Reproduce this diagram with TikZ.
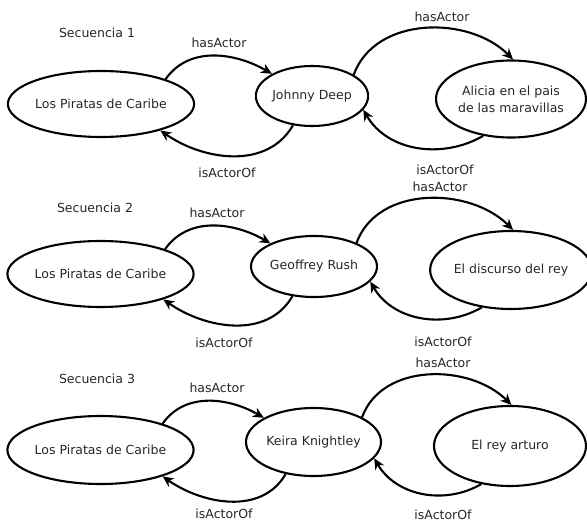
\documentclass[tikz,border=0pt]{standalone}
\usepackage{fontspec}
\setmainfont{DejaVu Sans}
\usetikzlibrary{shapes.geometric,arrows.meta}
\begin{document}
\begin{tikzpicture}[x=1pt,y=-1pt,
  ell/.style={ellipse, draw, line width=2.1pt, inner sep=0pt, align=center,
    text=black!85, font=\fontsize{12.5}{17}\selectfont},
  lbl/.style={font=\fontsize{12.5}{15}\selectfont, inner sep=0pt, text=black!85},
  rel/.style={line width=2.1pt, -{Stealth[length=11pt,width=10pt]}}]
\useasboundingbox (0,0) rectangle (587,524);

% ---------- Secuencia 1 ----------
\node[lbl] (s1) at (97,33) {Secuencia 1};
\node[ell, minimum width=171, minimum height=66] (p1) at (101,104) {Los Piratas de Caribe};
\node[ell, minimum width=111, minimum height=60] (a1) at (312,96) {Johnny Deep};
\node[ell, minimum width=150, minimum height=77] (m1) at (511,99) {Alicia en el pais\\de las maravillas};
\draw[rel] (p1.21) to[out=55,in=150] (a1.151);
\draw[rel] (a1.-123) to[out=-120,in=-35] (p1.-24);
\draw[rel] (a1.27) to[out=70,in=135] (m1.87);
\draw[rel] (m1.-127) to[out=-150,in=-60] (a1.-15);
\node[lbl] (h1a) at (219,43) {hasActor};
\node[lbl] (i1a) at (227,173) {isActorOf};
\node[lbl] (h1b) at (442,17) {hasActor};
\node[lbl] (i1b) at (445,170) {isActorOf};

% ---------- Secuencia 2 ----------
\node[lbl] (s2) at (95,208) {Secuencia 2};
\node[ell, minimum width=173, minimum height=66] (p2) at (100.5,274) {Los Piratas de Caribe};
\node[ell, minimum width=126, minimum height=61] (a2) at (314,266.5) {Geoffrey Rush};
\node[ell, minimum width=150, minimum height=78] (m2) at (511,270) {El discurso del rey};
\draw[rel] (p2.21) to[out=55,in=150] (a2.152);
\draw[rel] (a2.-126) to[out=-120,in=-35] (p2.-22);
\draw[rel] (a2.29) to[out=70,in=135] (m2.87);
\draw[rel] (m2.-128) to[out=-150,in=-60] (a2.-15);
\node[lbl] (h2a) at (217,213) {hasActor};
\node[lbl] (i2a) at (224,343) {isActorOf};
\node[lbl] (h2b) at (440,187) {hasActor};
\node[lbl] (i2b) at (443,342) {isActorOf};

% ---------- Secuencia 3 ----------
\node[lbl] (s3) at (97,379) {Secuencia 3};
\node[ell, minimum width=173, minimum height=68] (p3) at (100.5,450) {Los Piratas de Caribe};
\node[ell, minimum width=135, minimum height=68] (a3) at (313.5,442) {Keira Knightley};
\node[ell, minimum width=152, minimum height=80] (m3) at (510,446) {El rey arturo};
\draw[rel] (p3.23) to[out=55,in=150] (a3.154);
\draw[rel] (a3.-131) to[out=-120,in=-35] (p3.-23);
\draw[rel] (a3.27) to[out=70,in=135] (m3.88);
\draw[rel] (m3.-127) to[out=-150,in=-60] (a3.-15);
\node[lbl] (h3a) at (217,388) {hasActor};
\node[lbl] (i3a) at (224,514) {isActorOf};
\node[lbl] (h3b) at (443,363) {hasActor};
\node[lbl] (i3b) at (443,515) {isActorOf};
\end{tikzpicture}
\end{document}
